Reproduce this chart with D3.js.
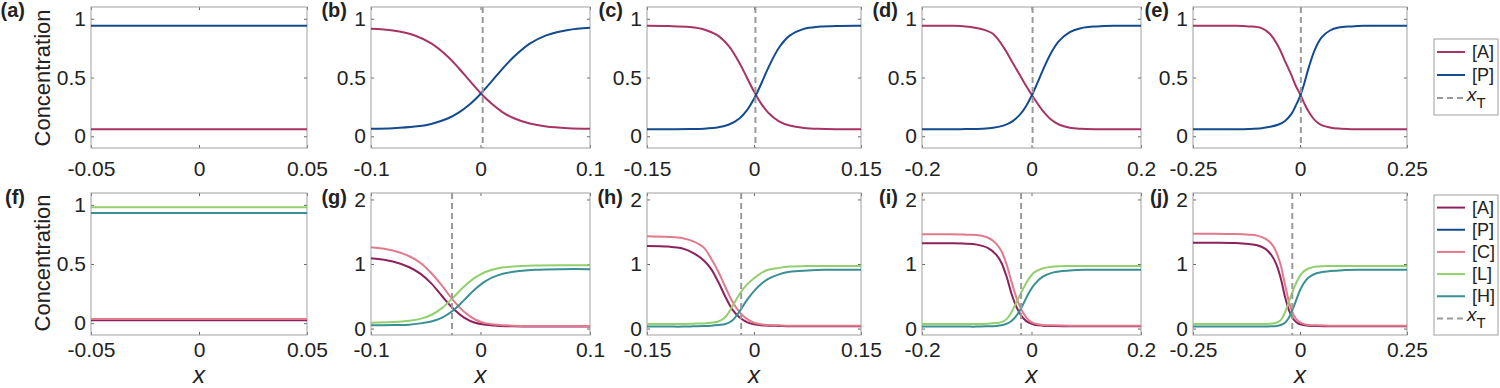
<!DOCTYPE html>
<html>
<head>
<meta charset="utf-8">
<script src="https://cdn.jsdelivr.net/npm/d3@7/dist/d3.min.js"></script>
<style>
body { margin: 0; background: #fff; }
svg text { font-family: "Liberation Sans", Arial, Helvetica, sans-serif; fill: #222; }
</style>
</head>
<body>
<div id="chart"></div>
<script>
// ---- data ----
var labelsTop = ["(a)", "(b)", "(c)", "(d)", "(e)"];
var labelsBottom = ["(f)", "(g)", "(h)", "(i)", "(j)"];
var halfRange = [0.05, 0.1, 0.15, 0.2, 0.25];
var xTickLabels = [
    ["-0.05", "0", "0.05"],
    ["-0.1", "0", "0.1"],
    ["-0.15", "0", "0.15"],
    ["-0.2", "0", "0.2"],
    ["-0.25", "0", "0.25"]
];
var yTicksTop = [0, 0.5, 1];
var yTickLabelsTop = ["0", "0.5", "1"];
var yTicksFlat = [0, 0.5, 1];
var yTicksBottom = [0, 1, 2];
var yTickLabelsBottom = ["0", "1", "2"];

// transition position x_T (no line in the first column)
var xT_top = [null, 0.002, 0.002, 0.002, 0.002];
var xT_bottom = [null, -0.026, -0.018, -0.019, -0.018];

// top row: [A] and [P]
var x_a = [-0.05, 0.05];
var A_a = [0.06, 0.06];
var P_a = [0.94, 0.94];

var x_b = [-0.1, -0.08, -0.06, -0.045, -0.03, -0.02, -0.01, 0, 0.01, 0.02, 0.03, 0.045, 0.06, 0.08, 0.1];
var A_b = [0.915, 0.9, 0.858, 0.79, 0.679, 0.581, 0.473, 0.368, 0.278, 0.206, 0.155, 0.108, 0.083, 0.069, 0.064];
var P_b = [0.063, 0.068, 0.082, 0.105, 0.151, 0.201, 0.27, 0.36, 0.465, 0.574, 0.672, 0.788, 0.859, 0.905, 0.924];

var x_c = [-0.15, -0.12, -0.09, -0.07, -0.05, -0.035, -0.02, -0.01, 0, 0.01, 0.02, 0.035, 0.05, 0.07, 0.09, 0.12, 0.15];
var A_c = [0.94, 0.938, 0.93, 0.909, 0.854, 0.764, 0.619, 0.50, 0.381, 0.278, 0.20, 0.127, 0.091, 0.071, 0.063, 0.06, 0.06];
var P_c = [0.06, 0.06, 0.061, 0.064, 0.076, 0.10, 0.154, 0.22, 0.319, 0.445, 0.582, 0.753, 0.856, 0.914, 0.932, 0.939, 0.94];

var x_d = [-0.2, -0.15, -0.12, -0.09, -0.07, -0.05, -0.035, -0.02, -0.01, 0, 0.01, 0.02, 0.035, 0.05, 0.07, 0.09, 0.12, 0.15, 0.2];
var A_d = [0.94, 0.94, 0.935, 0.91, 0.87, 0.75, 0.63, 0.51, 0.43, 0.355, 0.285, 0.22, 0.145, 0.10, 0.072, 0.063, 0.06, 0.06, 0.06];
var P_d = [0.06, 0.06, 0.061, 0.064, 0.072, 0.093, 0.127, 0.19, 0.256, 0.342, 0.445, 0.555, 0.703, 0.81, 0.887, 0.92, 0.935, 0.94, 0.94];

var x_e = [-0.25, -0.2, -0.15, -0.12, -0.09, -0.07, -0.05, -0.035, -0.02, -0.01, 0, 0.01, 0.02, 0.035, 0.05, 0.07, 0.09, 0.12, 0.15, 0.2, 0.25];
var A_e = [0.94, 0.94, 0.94, 0.935, 0.92, 0.87, 0.76, 0.64, 0.52, 0.43, 0.36, 0.28, 0.21, 0.135, 0.095, 0.075, 0.065, 0.06, 0.06, 0.06, 0.06];
var P_e = [0.06, 0.06, 0.06, 0.062, 0.068, 0.08, 0.10, 0.13, 0.19, 0.26, 0.34, 0.45, 0.58, 0.74, 0.84, 0.90, 0.925, 0.935, 0.94, 0.94, 0.94];

// bottom row: [A], [C], [L], [H]
var x_f = [-0.05, 0.05];
var A_f = [0.025, 0.025];
var C_f = [0.035, 0.035];
var L_f = [0.98, 0.98];
var H_f = [0.93, 0.93];

var x_g = [-0.1, -0.08, -0.065, -0.055, -0.045, -0.035, -0.025, -0.015, -0.005, 0.005, 0.015, 0.03, 0.05, 0.075, 0.1];
var A_g = [1.09, 1.04, 0.95, 0.85, 0.70, 0.50, 0.31, 0.17, 0.09, 0.06, 0.045, 0.035, 0.03, 0.03, 0.03];
var C_g = [1.26, 1.21, 1.12, 1.02, 0.86, 0.66, 0.44, 0.26, 0.14, 0.08, 0.06, 0.045, 0.04, 0.04, 0.04];
var L_g = [0.09, 0.10, 0.12, 0.15, 0.21, 0.32, 0.48, 0.65, 0.79, 0.88, 0.93, 0.96, 0.975, 0.98, 0.98];
var H_g = [0.05, 0.055, 0.06, 0.08, 0.11, 0.17, 0.28, 0.44, 0.61, 0.74, 0.82, 0.88, 0.91, 0.92, 0.92];

var x_h = [-0.15, -0.12, -0.1, -0.085, -0.07, -0.06, -0.05, -0.04, -0.03, -0.02, -0.01, 0, 0.01, 0.02, 0.035, 0.05, 0.075, 0.1, 0.15];
var A_h = [1.28, 1.27, 1.24, 1.17, 1.05, 0.92, 0.72, 0.49, 0.29, 0.17, 0.10, 0.065, 0.05, 0.045, 0.04, 0.035, 0.035, 0.035, 0.035];
var C_h = [1.43, 1.42, 1.40, 1.35, 1.25, 1.08, 0.88, 0.64, 0.41, 0.25, 0.15, 0.09, 0.065, 0.055, 0.05, 0.045, 0.045, 0.045, 0.045];
var L_h = [0.07, 0.07, 0.07, 0.075, 0.08, 0.09, 0.11, 0.18, 0.35, 0.54, 0.68, 0.78, 0.86, 0.91, 0.94, 0.96, 0.97, 0.97, 0.97];
var H_h = [0.03, 0.03, 0.03, 0.035, 0.04, 0.045, 0.055, 0.07, 0.13, 0.27, 0.44, 0.58, 0.69, 0.77, 0.84, 0.88, 0.90, 0.91, 0.91];

var x_i = [-0.2, -0.15, -0.12, -0.1, -0.08, -0.065, -0.055, -0.045, -0.035, -0.025, -0.015, -0.005, 0.005, 0.02, 0.04, 0.07, 0.1, 0.15, 0.2];
var A_i = [1.32, 1.32, 1.315, 1.30, 1.25, 1.15, 1.02, 0.79, 0.50, 0.29, 0.16, 0.09, 0.06, 0.045, 0.04, 0.035, 0.035, 0.035, 0.035];
var C_i = [1.46, 1.46, 1.455, 1.45, 1.41, 1.32, 1.20, 0.98, 0.68, 0.42, 0.24, 0.13, 0.08, 0.055, 0.05, 0.045, 0.045, 0.045, 0.045];
var L_i = [0.07, 0.07, 0.07, 0.07, 0.075, 0.085, 0.10, 0.15, 0.28, 0.45, 0.62, 0.77, 0.87, 0.93, 0.96, 0.97, 0.97, 0.97, 0.97];
var H_i = [0.03, 0.03, 0.03, 0.03, 0.035, 0.04, 0.05, 0.075, 0.13, 0.23, 0.38, 0.55, 0.68, 0.80, 0.87, 0.90, 0.91, 0.91, 0.91];

var x_j = [-0.25, -0.2, -0.15, -0.12, -0.1, -0.08, -0.065, -0.055, -0.045, -0.035, -0.025, -0.015, -0.005, 0.005, 0.02, 0.04, 0.07, 0.1, 0.15, 0.2, 0.25];
var A_j = [1.33, 1.33, 1.325, 1.31, 1.29, 1.23, 1.12, 0.99, 0.78, 0.49, 0.27, 0.14, 0.08, 0.06, 0.045, 0.04, 0.035, 0.035, 0.035, 0.035, 0.035];
var C_j = [1.47, 1.47, 1.465, 1.455, 1.44, 1.39, 1.30, 1.18, 0.98, 0.68, 0.40, 0.21, 0.12, 0.08, 0.055, 0.05, 0.045, 0.045, 0.045, 0.045, 0.045];
var L_j = [0.07, 0.07, 0.07, 0.07, 0.07, 0.072, 0.078, 0.09, 0.13, 0.25, 0.43, 0.61, 0.76, 0.86, 0.93, 0.96, 0.97, 0.97, 0.97, 0.97, 0.97];
var H_j = [0.03, 0.03, 0.03, 0.03, 0.03, 0.032, 0.035, 0.04, 0.055, 0.09, 0.18, 0.33, 0.51, 0.66, 0.79, 0.86, 0.89, 0.905, 0.91, 0.91, 0.91];

var legendTop = ["[A]", "[P]"];
var legendBottom = ["[A]", "[P]", "[C]", "[L]", "[H]"];

// ---- styling / layout ----
var colA = "#a83465", colP = "#134b8e";
var colA2 = "#8d215c", colC = "#e07a8c", colL = "#92d06e", colH = "#3a8f93";
var boxColor = "#a0a0a0", tickColor = "#666", dashColor = "#9a9a9a";

var boxLeft = [91, 371, 647, 922, 1193];
var boxWidth = [216, 219, 214, 219, 214];
var rows = [
    {top: 7, bottom: 148, labelY: 17, tickPad: 13},
    {top: 193, bottom: 335, labelY: 204, tickPad: 7}
];

var svg = d3.select("#chart")
    .append("svg")
    .attr("width", 1500)
    .attr("height", 388);

// build panel list from the arrays above
var topSeries = [
    [{x: x_a, y: A_a, c: colA}, {x: x_a, y: P_a, c: colP}],
    [{x: x_b, y: A_b, c: colA}, {x: x_b, y: P_b, c: colP}],
    [{x: x_c, y: A_c, c: colA}, {x: x_c, y: P_c, c: colP}],
    [{x: x_d, y: A_d, c: colA}, {x: x_d, y: P_d, c: colP}],
    [{x: x_e, y: A_e, c: colA}, {x: x_e, y: P_e, c: colP}]
];
function bottomSet(xs, A, C, L, H) {
    return [{x: xs, y: A, c: colA2}, {x: xs, y: C, c: colC}, {x: xs, y: L, c: colL}, {x: xs, y: H, c: colH}];
}
var bottomSeries = [
    bottomSet(x_f, A_f, C_f, L_f, H_f),
    bottomSet(x_g, A_g, C_g, L_g, H_g),
    bottomSet(x_h, A_h, C_h, L_h, H_h),
    bottomSet(x_i, A_i, C_i, L_i, H_i),
    bottomSet(x_j, A_j, C_j, L_j, H_j)
];

function drawPanel(row, col, series, yDomain, yTicks, yLabels, xT, label) {
    var r = rows[row];
    var w = boxWidth[col], h = r.bottom - r.top;
    var L = halfRange[col];
    var g = svg.append("g")
        .attr("transform", "translate(" + boxLeft[col] + "," + r.top + ")");

    var x = d3.scaleLinear().domain([-L, L]).range([0, w]);
    var y = d3.scaleLinear().domain(yDomain).range([h, 0]);

    // axes, ticks pointing inwards like matlab
    g.append("g")
        .attr("transform", "translate(0," + h + ")")
        .call(d3.axisBottom(x).tickValues([-L, 0, L]).tickSize(-3).tickPadding(r.tickPad)
            .tickFormat(function(d, i) { return xTickLabels[col][i]; }));
    g.append("g")
        .call(d3.axisLeft(y).tickValues(yTicks).tickSize(-3).tickPadding(5)
            .tickFormat(function(d, i) { return yLabels[i]; }));
    g.append("g").call(d3.axisTop(x).tickValues([-L, 0, L]).tickSize(-3).tickFormat(""));
    g.append("g").attr("transform", "translate(" + w + ",0)")
        .call(d3.axisRight(y).tickValues(yTicks).tickSize(-3).tickFormat(""));

    g.selectAll(".domain").remove();
    g.selectAll(".tick line").attr("stroke", tickColor);
    g.selectAll(".tick text").attr("fill", "#222").style("font-size", "21px");

    g.append("rect")
        .attr("width", w).attr("height", h)
        .attr("fill", "none")
        .attr("stroke", boxColor);

    var line = d3.line()
        .x(function(d) { return x(d[0]); })
        .y(function(d) { return y(d[1]); })
        .curve(d3.curveCatmullRom.alpha(0.5));

    series.forEach(function(s) {
        g.append("path")
            .datum(s.x.map(function(v, i) { return [v, s.y[i]]; }))
            .attr("fill", "none")
            .attr("stroke", s.c)
            .attr("stroke-width", 2)
            .attr("d", line);
    });

    if (xT !== null) {
        g.append("line")
            .attr("x1", x(xT)).attr("x2", x(xT))
            .attr("y1", 0).attr("y2", h)
            .attr("stroke", dashColor)
            .attr("stroke-width", 2)
            .attr("stroke-dasharray", "6,4");
    }

    // panel letter
    var lx = col === 0 ? 25 : boxLeft[col] - 24;
    svg.append("text")
        .attr("x", lx).attr("y", r.labelY)
        .attr("text-anchor", "end")
        .style("font-size", "20px")
        .style("font-weight", "bold")
        .text(label);

    if (row === 1) {
        svg.append("text")
            .attr("x", boxLeft[col] + w / 2).attr("y", 383)
            .attr("text-anchor", "middle")
            .style("font-size", "24px")
            .style("font-style", "italic")
            .text("x");
    }
}

for (var i = 0; i < 5; i++) {
    drawPanel(0, i, topSeries[i], [-0.1, 1.1], yTicksTop, yTickLabelsTop, xT_top[i], labelsTop[i]);
    if (i === 0) {
        drawPanel(1, i, bottomSeries[i], [-0.1, 1.1], yTicksFlat, yTickLabelsTop, xT_bottom[i], labelsBottom[i]);
    } else {
        drawPanel(1, i, bottomSeries[i], [-0.1, 2.1], yTicksBottom, yTickLabelsBottom, xT_bottom[i], labelsBottom[i]);
    }
}

// y labels
[78, 263].forEach(function(cy) {
    svg.append("text")
        .attr("transform", "translate(50," + cy + ") rotate(-90)")
        .attr("text-anchor", "middle")
        .style("font-size", "22px")
        .text("Concentration");
});

// legends
function drawLegend(top, height, names, colors) {
    var lg = svg.append("g").attr("transform", "translate(1434," + top + ")");
    lg.append("rect")
        .attr("width", 64).attr("height", height)
        .attr("fill", "#fff")
        .attr("stroke", boxColor);
    var rowH = (height - 7) / (names.length + 1);
    names.forEach(function(n, i) {
        var cy = 1.5 + rowH * (i + 0.5);
        lg.append("line")
            .attr("x1", 3).attr("x2", 31)
            .attr("y1", cy).attr("y2", cy)
            .attr("stroke", colors[i]).attr("stroke-width", 2);
        lg.append("text")
            .attr("x", 38).attr("y", cy + 6)
            .style("font-size", "18px")
            .text(n);
    });
    var cy = 1.5 + rowH * (names.length + 0.5);
    lg.append("line")
        .attr("x1", 3).attr("x2", 31)
        .attr("y1", cy).attr("y2", cy)
        .attr("stroke", dashColor).attr("stroke-width", 2)
        .attr("stroke-dasharray", "6,4");
    var t = lg.append("text").attr("x", 33).attr("y", cy + 3).style("font-size", "19px");
    t.append("tspan").style("font-style", "italic").text("x");
    t.append("tspan").attr("dy", 7).style("font-size", "15px").text("T");
}
drawLegend(39, 76, legendTop, [colA, colP]);
drawLegend(195, 140, legendBottom, [colA2, colP, colC, colL, colH]);
</script>
</body>
</html>
